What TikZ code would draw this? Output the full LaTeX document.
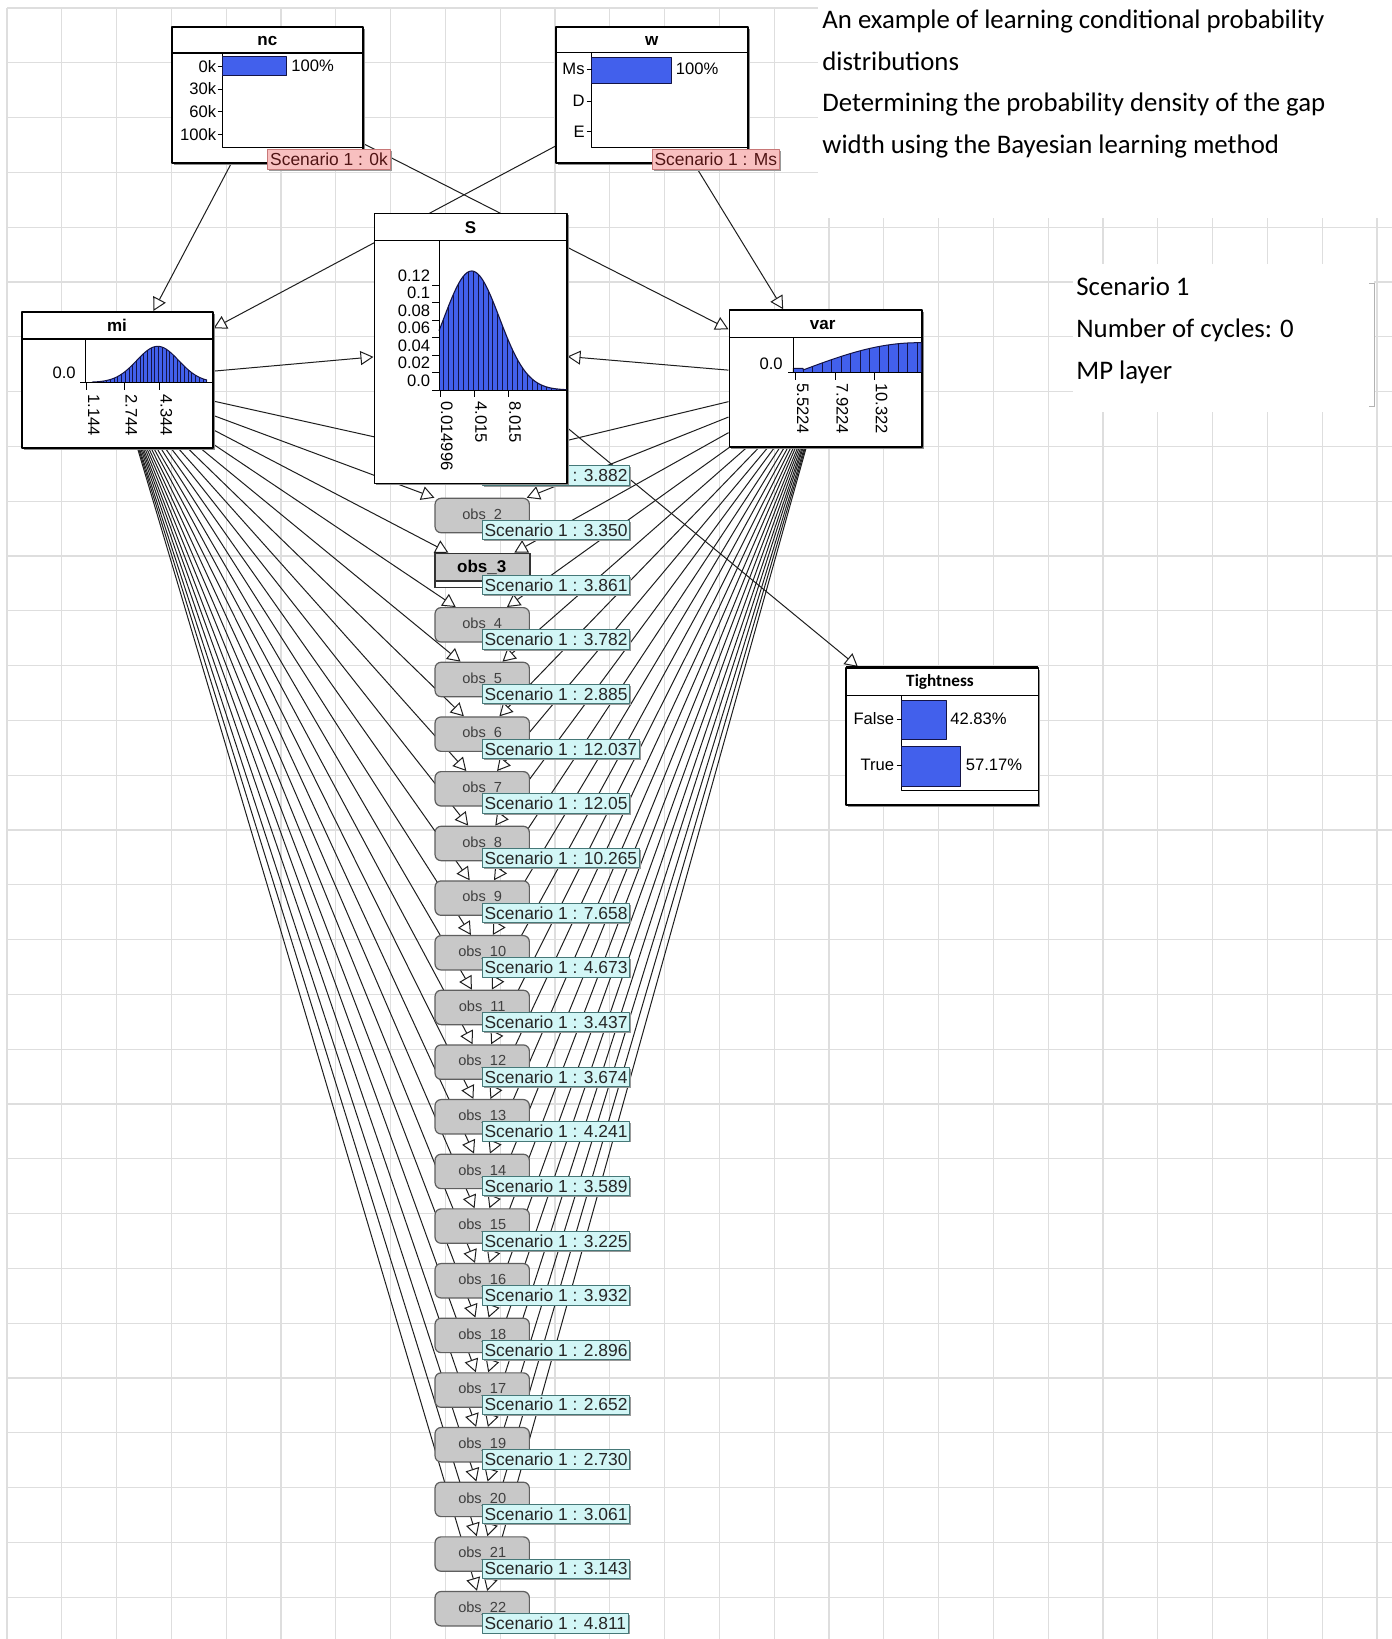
\documentclass[tikz,border=0pt]{standalone}
\usepackage{fontspec}
\setmainfont{Liberation Sans}
\newfontfamily\calfont{Carlito}
\usetikzlibrary{arrows.meta,fit,shadows}
\pgfdeclarelayer{paper}
\pgfdeclarelayer{links}
\pgfsetlayers{paper,links,main}

\definecolor{gridc}{RGB}{222,222,222}
\definecolor{barblue}{RGB}{66,96,236}
\definecolor{barline}{RGB}{20,20,70}
\definecolor{pinkfill}{RGB}{248,192,192}
\definecolor{pinkline}{RGB}{200,120,120}
\definecolor{pinktext}{RGB}{80,20,20}
\definecolor{cyanfill}{RGB}{210,246,246}
\definecolor{cyanline}{RGB}{70,120,120}
\definecolor{obsfill}{RGB}{200,200,200}
\definecolor{obsline}{RGB}{95,95,95}
\definecolor{linkc}{RGB}{30,30,30}

\newcommand\nfont{\fontsize{8.3pt}{9.5pt}\selectfont}
\newcommand\sfont{\fontsize{8.7pt}{10pt}\selectfont}
\newcommand\tfont{\fontsize{8.5pt}{9.5pt}\selectfont\bfseries}
\newcommand\cfont{\calfont\fontsize{13.4pt}{16pt}\selectfont}

% framed Netica-style node: name, x1, y1, x2, y2, y of the title rule
\newcommand\netnode[6]{%
  \node[netbox, fit={(#2,#3) (#4,#5)}] (#1) {};
  \draw[line width=0.7pt] (#2,#6) -- (#4,#6);
}

\begin{document}
\begin{tikzpicture}[x=0.5pt, y=-0.5pt, line join=round,
  netbox/.style={draw=black, line width=0.8pt, fill=white, inner sep=0pt,
    drop shadow={shadow xshift=0.9pt, shadow yshift=-0.9pt, fill=black!45, opacity=1}},
  netlink/.style={draw=linkc, line width=0.5pt,
    -{Triangle[fill=white, length=6.5pt, width=7pt]}},
  scen/.style={fill=cyanfill, draw=cyanline, line width=0.5pt, inner xsep=1.2pt,
    inner ysep=0pt, minimum height=9.6pt, anchor=west, font=\sfont, text=black!85,
    drop shadow={shadow xshift=0.7pt, shadow yshift=-0.7pt, fill=black!40, opacity=1}},
  pinklab/.style={scen, fill=pinkfill, draw=pinkline, text=pinktext},
  obsbox/.style={rectangle, rounded corners=3pt, fill=obsfill, draw=obsline,
    line width=0.6pt, minimum width=47.15pt, minimum height=17.2pt, inner sep=0pt,
    font=\fontsize{7.3pt}{8pt}\selectfont, text=black!75},
  axtick/.style={line width=0.5pt},
  lab/.style={font=\nfont, inner sep=0pt},
  vlab/.style={font=\nfont, inner sep=0pt, rotate=-90, anchor=base west},
  ttl/.style={font=\tfont, inner sep=0pt}]

\useasboundingbox (0,0) rectangle (1392,1639);

% ---------- paper: grid and text panels ----------
\begin{pgfonlayer}{paper}
  \fill[white] (0,0) rectangle (1392,1639);
  \foreach \i in {0,...,25}
    \draw[gridc, line width=0.6pt] ({7+54.8*\i},8) -- ({7+54.8*\i},1639);
  \foreach \i in {0,...,29}
    \draw[gridc, line width=0.6pt] (7,{8+54.8*\i}) -- (1392,{8+54.8*\i});
  \fill[white] (818,0) rectangle (1392,218);
  \fill[white] (1073,264) rectangle (1374,412);
  \draw[black!30, line width=0.5pt] (1369,283) -- (1374,283) -- (1374,406) -- (1369,406);
\end{pgfonlayer}

% ---------- captions ----------
\node[font=\cfont, anchor=base west, inner sep=0pt] (cap1) at (822,28.3) {An example of learning conditional probability};
\node[font=\cfont, anchor=base west, inner sep=0pt] (cap2) at (822,70) {distributions};
\node[font=\cfont, anchor=base west, inner sep=0pt] (cap3) at (822,111.7) {Determining the probability density of the gap};
\node[font=\cfont, anchor=base west, inner sep=0pt] (cap4) at (822,153.3) {width using the Bayesian learning method};
\node[font=\cfont, anchor=base west, inner sep=0pt] (sc1) at (1076,295) {Scenario 1};
\node[font=\cfont, anchor=base west, inner sep=0pt] (sc2) at (1076,337.3) {Number of cycles: 0};
\node[font=\cfont, anchor=base west, inner sep=0pt] (sc3) at (1076,379) {MP layer};

% ---------- nc ----------
\netnode{nc}{171.7}{26.7}{363}{163}{53}
\node[ttl] (ncT) at (267.3,40.5) {nc};
\draw[axtick] (222,53) -- (222,147.7) -- (363,147.7);
\draw[fill=barblue, draw=barline, line width=0.5pt] (222,56.7) rectangle (286.7,75.7);
\node[lab, anchor=west] (ncP) at (291,65.5) {100\%};
\foreach \yy/\tx in {66.7/0k, 89/30k, 111.7/60k, 134.3/100k} {
  \draw[axtick] (217.5,\yy) -- (222,\yy);
  \node[lab, anchor=east] at (216.5,\yy) {\tx};
}

% ---------- w ----------
\netnode{w}{556}{26.7}{747.7}{162.7}{52.7}
\node[ttl] (wT) at (651.8,41) {w};
\draw[axtick] (591.7,52.7) -- (591.7,147.7) -- (747.7,147.7);
\draw[fill=barblue, draw=barline, line width=0.5pt] (591.7,57.7) rectangle (671,83.3);
\node[lab, anchor=west] (wP) at (675.5,68.3) {100\%};
\foreach \yy/\tx in {69/Ms, 101/D, 131.7/E} {
  \draw[axtick] (586.5,\yy) -- (591.7,\yy);
  \node[lab, anchor=east] at (585,\yy) {\tx};
}

% ---------- mi ----------
\netnode{mi}{21.7}{311.7}{212.7}{447.7}{339}
\node[ttl] (miT) at (117,325.5) {mi};
\begin{scope}
  \clip (85,339) rectangle (212.3,382.3);
  \fill[barblue] (92,382.3) -- plot[domain=92:207, samples=60]
    (\x, {382.3-36*exp(-(\x-157.7)*(\x-157.7)/880)}) -- (207,382.3) -- cycle;
  \foreach \i in {0,...,31} {
    \pgfmathsetmacro\bx{92+3.7*\i}
    \pgfmathsetmacro\by{382.3-36*exp(-(\bx-157.7)*(\bx-157.7)/880)}
    \draw[barline, line width=0.45pt] (\bx,382.3) -- (\bx,\by);
  }
  \draw[barline, line width=0.5pt] plot[domain=92:207, samples=60]
    (\x, {382.3-36*exp(-(\x-157.7)*(\x-157.7)/880)});
\end{scope}
\draw[axtick] (85,339) -- (85,382.3);
\draw[axtick] (80,382.3) -- (212.7,382.3);
\node[lab, anchor=east] (mi0) at (76,373) {0.0};
\foreach \tx/\tl in {86.7/1.144, 124/2.744, 159/4.344} {
  \draw[axtick] (\tx,382.3) -- (\tx,390);
  \node[vlab] at ({\tx+1.5},394) {\tl};
}

% ---------- var ----------
\netnode{var}{729.3}{310}{921.7}{446.7}{337.7}
\node[ttl] (varT) at (822.7,324.5) {var};
\fill[barblue] (793.3,372.7) -- (793.3,368.3) -- (803,368.3) -- (803,370) -- plot[domain=803:918, samples=30]
  (\x, {370-27.3*sin(90*(\x-803)/115)}) -- (921.3,342.7) -- (921.3,372.7) -- cycle;
\draw[barline, line width=0.5pt] (793.3,372.7) -- (793.3,368.3) -- (803,368.3) -- (803,370) -- plot[domain=803:918, samples=30]
  (\x, {370-27.3*sin(90*(\x-803)/115)}) -- (921.3,342.7) -- (921.3,372.7);
\foreach \i in {0,...,12} {
  \pgfmathsetmacro\bx{803+9.5*\i}
  \pgfmathsetmacro\by{370-27.3*sin(90*(\bx-803)/115)}
  \draw[barline, line width=0.45pt] (\bx,372.7) -- (\bx,\by);
}
\draw[axtick] (793.3,337.7) -- (793.3,372.7);
\draw[axtick] (788,372.7) -- (921.7,372.7);
\node[lab, anchor=east] (var0) at (783,363.3) {0.0};
\foreach \tx/\tl in {795.7/5.5224, 835/7.9224, 874.3/10.322} {
  \draw[axtick] (\tx,372.7) -- (\tx,380);
  \node[vlab] at ({\tx+1.5},383) {\tl};
}

% ---------- observation nodes (obs_1 sits under S) ----------
\foreach \kk/\nn/\vl in {1/1/3.882, 2/2/3.350, 4/4/3.782, 5/5/2.885, 6/6/12.037,
    7/7/12.05, 8/8/10.265, 9/9/7.658, 10/10/4.673, 11/11/3.437, 12/12/3.674,
    13/13/4.241, 14/14/3.589, 15/15/3.225, 16/16/3.932, 17/18/2.896, 18/17/2.652,
    19/19/2.730, 20/20/3.061, 21/21/3.143, 22/22/4.811} {
  \pgfmathsetmacro\oy{515.5+(\kk-2)*54.66}
  \node[obsbox] (o\kk) at (482.2,\oy) {obs\_\nn\hspace{4pt}};
  \node[scen] (s\kk) at (481.7,{\oy+14.7}) {Scenario 1 : \vl\hspace{3.5pt}};
}
% expanded node obs_3
\node[fit={(435,553.3) (530,587.7)}, inner sep=0pt, fill=obsfill, draw=black!80, line width=0.6pt] (o3) {};
\fill[white] (435,581) rectangle (530,587.7);
\draw[black!80, line width=0.6pt] (435,581) -- (530,581);
\draw[black!80, line width=0.6pt] (435,553.3) rectangle (530,587.7);
\node[ttl] (o3T) at (481.7,567.7) {obs\_3};
\node[scen] (s3) at (481.7,584.9) {Scenario 1 : 3.861\hspace{3.5pt}};

% ---------- S ----------
\netnode{S}{374.3}{213.3}{566.7}{483.3}{240.7}
\node[ttl] (ST) at (470.5,227.5) {S};
\fill[barblue] (439,390) -- plot[domain=439:566.3, samples=70]
  (\x, {390-119*exp(-(\x-471.7)*(\x-471.7)/1534.6)}) -- (566.3,390) -- cycle;
\foreach \i in {0,...,26} {
  \pgfmathsetmacro\bx{439+4.9*\i}
  \pgfmathsetmacro\by{390-119*exp(-(\bx-471.7)*(\bx-471.7)/1534.6)}
  \draw[barline, line width=0.45pt] (\bx,390) -- (\bx,\by);
}
\draw[barline, line width=0.55pt] plot[domain=439:566.3, samples=70]
  (\x, {390-119*exp(-(\x-471.7)*(\x-471.7)/1534.6)});
\draw[axtick] (439,240.7) -- (439,390) -- (566.7,390);
\foreach \i/\tl in {0/0.0, 1/0.02, 2/0.04, 3/0.06, 4/0.08, 5/0.1, 6/0.12} {
  \draw[axtick] (432,{390-17.5*\i}) -- (439,{390-17.5*\i});
  \node[lab, anchor=east] at (430.5,{380.5-17.5*\i}) {\tl};
}
\foreach \tx/\tl in {440/0.014996, 474.3/4.015, 508.3/8.015} {
  \draw[axtick] (\tx,390) -- (\tx,396.7);
  \node[vlab] at ({\tx+1},401) {\tl};
}

% ---------- Tightness ----------
\netnode{tight}{846}{667.7}{1038.3}{805}{695.7}
\draw[line width=1.3pt] (846,667.7) -- (1038.3,667.7);
\node[font=\calfont\fontsize{8.6pt}{10pt}\selectfont\bfseries, inner sep=0pt] (tT) at (940,681.7) {Tightness};
\draw[axtick] (901.7,695.7) -- (901.7,790) -- (1038.3,790);
\draw[fill=barblue, draw=barline, line width=0.5pt] (901.7,700) rectangle (946,739.3);
\draw[fill=barblue, draw=barline, line width=0.5pt] (901.7,746) rectangle (960.7,786);
\draw[axtick] (896.5,719) -- (901.7,719);
\draw[axtick] (896.5,765) -- (901.7,765);
\node[lab, anchor=east] (tF) at (894.5,719) {False};
\node[lab, anchor=east] (tTr) at (894.5,765) {True};
\node[lab, anchor=west] (tFp) at (950,718.3) {42.83\%};
\node[lab, anchor=west] (tTp) at (965.5,765) {57.17\%};

% ---------- scenario findings of the discrete nodes ----------
\node[pinklab] (ncs) at (267.3,159.5) {Scenario 1 : 0k\hspace{3.5pt}};
\node[pinklab] (ws) at (651.7,159.5) {Scenario 1 : Ms\hspace{3.5pt}};

% ---------- links ----------
\begin{pgfonlayer}{links}
  \foreach \kk in {22,21,...,1} {
    \draw[netlink] (mi) -- (o\kk);
    \draw[netlink] (var) -- (o\kk);
  }
  \draw[netlink] (nc) -- (mi);
  \draw[netlink] (nc) -- (var);
  \draw[netlink] (w) -- (mi);
  \draw[netlink] (w) -- (var);
  \draw[netlink] (mi) -- (S);
  \draw[netlink] (var) -- (S);
  \draw[netlink] (S) -- (tight);
\end{pgfonlayer}

\end{tikzpicture}
\end{document}
